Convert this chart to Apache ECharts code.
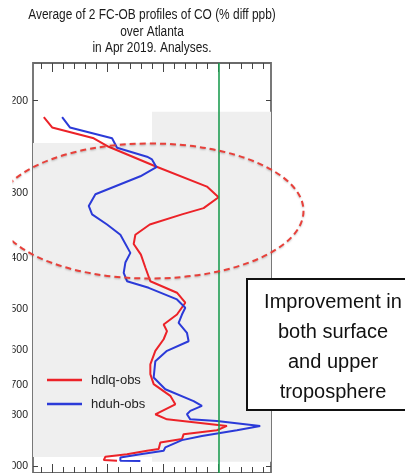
<!DOCTYPE html>
<html><head><meta charset="utf-8">
<script src="https://cdn.jsdelivr.net/npm/echarts@6/dist/echarts.min.js"></script>
<style>html,body{margin:0;padding:0;background:#fff}#c{width:405px;height:473px}</style>
</head><body><div id="c"></div>
<script>
// ---- text ----
const titleLines = ['Average of 2 FC-OB profiles of CO (% diff ppb)', 'over Atlanta', 'in Apr 2019. Analyses.'];
const seriesNames = ['hdlq-obs', 'hduh-obs'];
const annotationLines = ['Improvement in', 'both surface', 'and upper', 'troposphere'];

// ---- data: pressure (hPa) and % difference ----
const redPressure = [215, 225, 236, 245, 267, 292, 306, 321, 330, 345, 361, 376, 394, 417, 443, 466, 487, 513, 536, 552, 572, 602, 639, 667, 697, 734, 762, 796, 814, 838, 854, 869, 888, 901, 928, 935, 949, 960, 974, 977];
const redValues   = [-31.5, -30.0, -22.5, -19.8, -11.4, -2.1, 0.0, -2.7, -6.6, -12.4, -15.0, -15.3, -14.0, -13.2, -12.3, -7.5, -6.0, -7.5, -9.9, -9.3, -9.9, -11.4, -12.3, -12.3, -11.7, -8.7, -7.8, -11.4, -9.3, 1.5, -0.3, -6.3, -6.6, -10.5, -10.8, -12.9, -16.5, -20.4, -20.7, -18.3];
const bluePressure = [215, 225, 236, 246, 256, 259, 268, 279, 302, 318, 330, 345, 361, 391, 408, 427, 443, 456, 480, 498, 513, 532, 556, 577, 602, 630, 677, 713, 751, 767, 784, 796, 814, 820, 838, 854, 876, 892, 921, 935, 949, 963, 977, 978];
const blueValues   = [-28.2, -26.8, -19.2, -18.3, -12.9, -12.0, -11.2, -14.1, -22.2, -23.4, -22.8, -20.1, -17.7, -15.9, -16.8, -17.1, -16.5, -12.6, -7.5, -6.0, -6.6, -7.2, -5.7, -5.4, -9.3, -11.4, -11.7, -9.6, -4.5, -3.0, -5.1, -5.7, -5.1, -0.3, 7.5, 3.3, -3.0, -6.6, -9.6, -9.9, -14.1, -17.7, -17.7, -14.1];

// ---- axes ----
const yTickValues = [200, 300, 400, 500, 600, 700, 800, 900, 1000];
const yLabelValues = [200, 300, 400, 500, 600, 700, 800, 1000];
const xMinorTicks = [-32, -30, -28, -26, -24, -22, -20, -18, -16, -14, -12, -10, -8, -6, -4, -2, 0, 2, 4, 6, 8];
const xMajorTicks = [-30, -20, -10, 0];
const xRange = [-33.45, 9.45];
const pRange = [169.4, 1031];
const zeroLine = 0;
// background panels (x range, pressure range)
const panelSplitX = -12.0;
const panelLeftP = [241, 961];
const panelRightP = [210, 981];

const FONT = '"Liberation Sans", Arial, sans-serif';
const RED = '#ec2228';
const BLUE = '#2b3ad8';
const GREEN = '#1f9d52';
const FRAME = '#6a6a6a';

const chart = echarts.init(document.getElementById('c'), null, {renderer: 'canvas'});

function xAxisDef(pos, ticks, len) {
  return {
    type: 'value', position: pos, min: xRange[0], max: xRange[1],
    axisLine: {show: false, onZero: false},
    axisLabel: {show: false},
    splitLine: {show: false},
    axisTick: {show: true, inside: true, length: len, customValues: ticks, lineStyle: {color: '#444', width: 1}}
  };
}
function yAxisDef(pos, showLabels) {
  return {
    type: 'log', logBase: 10, position: pos, inverse: true, min: pRange[0], max: pRange[1],
    axisLine: {show: false, onZero: false},
    splitLine: {show: false},
    minorTick: {show: false},
    axisTick: {show: true, inside: true, length: 5, customValues: yTickValues, lineStyle: {color: '#444', width: 1}},
    axisLabel: {show: showLabels, customValues: yLabelValues, margin: 5, fontSize: 10.5, color: '#222', fontFamily: FONT,
      formatter: v => String(Math.round(v))}
  };
}

const titleGraphics = titleLines.map((t, i) => ({
  type: 'text', x: 152, y: 15.5 + i * 16.3, scaleX: 0.85, z: 100,
  style: {text: t, font: '14px ' + FONT, fill: '#1a1a1a', align: 'center', verticalAlign: 'middle', textAlign: 'center', textVerticalAlign: 'middle'}
}));

chart.setOption({
  backgroundColor: '#fff',
  animation: false,
  grid: {left: 33, top: 63, width: 238, height: 411, show: true, borderColor: FRAME, borderWidth: 1.8, backgroundColor: '#fff', containLabel: false},
  xAxis: [xAxisDef('bottom', xMinorTicks, 6), xAxisDef('bottom', xMajorTicks, 9), xAxisDef('top', xMinorTicks, 6), xAxisDef('top', xMajorTicks, 9)],
  yAxis: [yAxisDef('left', true), yAxisDef('right', false)],
  legend: {
    data: seriesNames, orient: 'vertical', left: 42, top: 368, itemWidth: 35, itemHeight: 2.5, itemGap: 10, icon: 'rect',
    textStyle: {fontSize: 13, color: '#222', fontFamily: FONT, lineHeight: 14, padding: [0, 0, 0, 4]}
  },
  series: [
    {
      type: 'line', data: [], xAxisIndex: 0, yAxisIndex: 0, z: 1, silent: true,
      markArea: {silent: true, itemStyle: {color: '#efefef'}, data: [
        [{xAxis: xRange[0], yAxis: panelLeftP[0]}, {xAxis: panelSplitX, yAxis: panelLeftP[1]}],
        [{xAxis: panelSplitX, yAxis: panelRightP[0]}, {xAxis: xRange[1], yAxis: panelRightP[1]}]
      ]},
      markLine: {silent: true, symbol: ['none', 'none'], label: {show: false}, lineStyle: {color: GREEN, width: 1.6, type: 'solid'}, data: [{xAxis: zeroLine}]}
    },
    {
      name: seriesNames[0], type: 'line', xAxisIndex: 0, yAxisIndex: 0, z: 3, symbol: 'none',
      data: redPressure.map((p, i) => [redValues[i], p]),
      lineStyle: {color: RED, width: 2}, itemStyle: {color: RED}
    },
    {
      name: seriesNames[1], type: 'line', xAxisIndex: 0, yAxisIndex: 0, z: 3, symbol: 'none',
      data: bluePressure.map((p, i) => [blueValues[i], p]),
      lineStyle: {color: BLUE, width: 2}, itemStyle: {color: BLUE}
    }
  ],
  graphic: titleGraphics.concat([
    {type: 'ellipse', z: 90, silent: true, shape: {cx: 150, cy: 211, rx: 153.5, ry: 67.5},
      style: {fill: 'none', stroke: '#e8403a', lineWidth: 2, lineDash: [6, 4], shadowColor: 'rgba(0,0,0,0.25)', shadowBlur: 2, shadowOffsetY: 1}},
    {type: 'rect', z: 95, silent: true, shape: {x: 0, y: 60, width: 12.5, height: 413}, style: {fill: '#fff'}},
    {type: 'rect', z: 96, silent: true, shape: {x: 247, y: 279, width: 165, height: 131}, style: {fill: '#fff', stroke: '#111', lineWidth: 2}},
    {type: 'text', z: 97, x: 333, y: 347.5, silent: true,
      style: {text: annotationLines.join('\n'), font: '20px ' + FONT, lineHeight: 29.7, fill: '#111', align: 'center', verticalAlign: 'middle', textAlign: 'center', textVerticalAlign: 'middle'}}
  ])
});
</script></body></html>
